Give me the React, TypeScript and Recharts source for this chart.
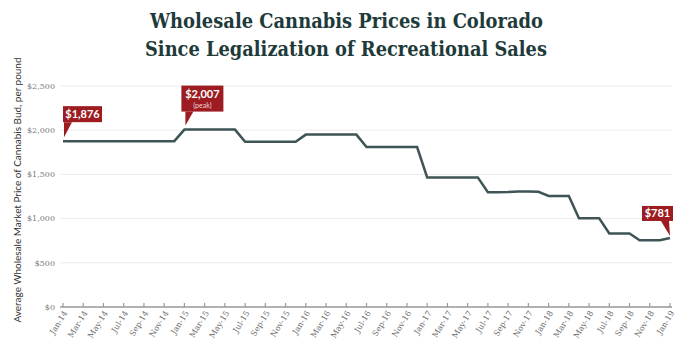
import React from 'react';
import { LineChart, Line, XAxis, YAxis, CartesianGrid, ReferenceDot } from 'recharts';

const months: string[] = [
  'Jan-14', 'Feb-14', 'Mar-14', 'Apr-14', 'May-14', 'Jun-14', 'Jul-14', 'Aug-14', 'Sep-14', 'Oct-14', 'Nov-14', 'Dec-14',
  'Jan-15', 'Feb-15', 'Mar-15', 'Apr-15', 'May-15', 'Jun-15', 'Jul-15', 'Aug-15', 'Sep-15', 'Oct-15', 'Nov-15', 'Dec-15',
  'Jan-16', 'Feb-16', 'Mar-16', 'Apr-16', 'May-16', 'Jun-16', 'Jul-16', 'Aug-16', 'Sep-16', 'Oct-16', 'Nov-16', 'Dec-16',
  'Jan-17', 'Feb-17', 'Mar-17', 'Apr-17', 'May-17', 'Jun-17', 'Jul-17', 'Aug-17', 'Sep-17', 'Oct-17', 'Nov-17', 'Dec-17',
  'Jan-18', 'Feb-18', 'Mar-18', 'Apr-18', 'May-18', 'Jun-18', 'Jul-18', 'Aug-18', 'Sep-18', 'Oct-18', 'Nov-18', 'Dec-18',
  'Jan-19',
];

const prices: number[] = [
  1876, 1876, 1876, 1876, 1876, 1876, 1876, 1876, 1876, 1876, 1876, 1876,
  2007, 2007, 2007, 2007, 2007, 2007, 1868, 1868, 1868, 1868, 1868, 1868,
  1950, 1950, 1950, 1950, 1950, 1950, 1810, 1810, 1810, 1810, 1810, 1810,
  1466, 1466, 1466, 1466, 1466, 1466, 1298, 1298, 1300, 1306, 1306, 1304,
  1257, 1257, 1257, 1003, 1003, 1003, 831, 831, 831, 755, 755, 755,
  781,
];

const yTicks: number[] = [0, 500, 1000, 1500, 2000, 2500];

const titleLines: string[] = [
  'Wholesale Cannabis Prices in Colorado',
  'Since Legalization of Recreational Sales',
];
const yAxisTitle = 'Average Wholesale Market Price of Cannabis Bud, per pound';

type Callout = { month: string; value: number; label: string; sub?: string; side: 'left' | 'peak' | 'right' };
const callouts: Callout[] = [
  { month: 'Jan-14', value: 1876, label: '$1,876', side: 'left' },
  { month: 'Jan-15', value: 2007, label: '$2,007', sub: '(peak)', side: 'peak' },
  { month: 'Jan-19', value: 781, label: '$781', side: 'right' },
];

const data = months.map((m, i) => ({ month: m, price: prices[i] }));

const RED = '#9c1c21';
const LINE = '#3f5456';

const fmt = (v: number) => '$' + v.toLocaleString('en-US');

const XTick = (props: any) => {
  const { x, y, payload } = props;
  const ax = x;
  const ay = y + 3;
  return (
    <g>
      <line x1={x} x2={x} y1={y - 4} y2={y} stroke="#9a9a9a" strokeWidth={1.2} />
      <text
        x={ax}
        y={ay}
        transform={`rotate(-58, ${ax}, ${ay})`}
        textAnchor="end"
        dominantBaseline="hanging"
        fontSize={8}
        fill="#6e6e6e"
        fontFamily="DejaVu Serif"
      >
        {payload.value}
      </text>
    </g>
  );
};

const makeCallout = (c: Callout) => (props: any) => {
  const { cx, cy } = props;
  if (cx == null || cy == null) return <g />;
  let bx: number, by: number, bw: number, bh: number, tail: string;
  if (c.side === 'left') {
    bw = 39; bh = 16; bx = cx; by = cy - 19 - bh;
    tail = `M${bx + 1},${by + bh} L${bx + 9},${by + bh} L${cx + 1},${cy - 4} Z`;
  } else if (c.side === 'peak') {
    bw = 42; bh = 26; bx = cx - 3; by = cy - 18 - bh;
    tail = `M${bx + 4},${by + bh} L${bx + 12},${by + bh} L${cx + 1},${cy - 4} Z`;
  } else {
    bw = 31; bh = 15; bx = cx + 3 - bw; by = cy - 17 - bh;
    tail = `M${bx + bw - 12},${by + bh} L${bx + bw - 4},${by + bh} L${cx},${cy - 2} Z`;
  }
  return (
    <g>
      <path d={tail} fill={RED} />
      <rect x={bx} y={by} width={bw} height={bh} fill={RED} />
      {c.sub ? (
        <>
          <text x={bx + bw / 2} y={by + 12} textAnchor="middle" fontSize={11} fontWeight={700} fill="#fff" fontFamily="Lato">{c.label}</text>
          <text x={bx + bw / 2} y={by + 22} textAnchor="middle" fontSize={7} fill="#f2d6d6" fontFamily="Lato">{c.sub}</text>
        </>
      ) : (
        <text x={bx + bw / 2} y={by + bh / 2 + 4} textAnchor="middle" fontSize={11} fontWeight={700} fill="#fff" fontFamily="Lato">{c.label}</text>
      )}
    </g>
  );
};

export default function App() {
  return (
    <div style={{ position: 'absolute', left: 0, top: 0, width: 675, height: 342, background: '#fff', overflow: 'hidden' }}>
      <LineChart
        width={675}
        height={342}
        data={data}
        margin={{ top: 86, right: 3, bottom: 0, left: 0 }}
      >
        <CartesianGrid vertical={false} stroke="#ececec" strokeWidth={1} />
        <XAxis
          dataKey="month"
          interval={1}
          padding={{ left: 3, right: 2 }}
          height={35}
          tickSize={0}
          tickMargin={0}
          tickLine={false}
          axisLine={{ stroke: '#9a9a9a', strokeWidth: 1.5 }}
          tick={<XTick />}
        />
        <YAxis
          domain={[0, 2500]}
          ticks={yTicks}
          width={60}
          axisLine={false}
          tickLine={false}
          tickSize={0}
          tickMargin={5}
          tickFormatter={fmt}
          tick={{ fontSize: 8, fill: '#7a7a7a', fontFamily: 'DejaVu Serif' }}
        />
        <Line
          type="linear"
          dataKey="price"
          stroke={LINE}
          strokeWidth={2.5}
          dot={false}
          activeDot={false}
          isAnimationActive={false}
        />
        {callouts.map((c) => (
          <ReferenceDot
            key={c.month}
            x={c.month}
            y={c.value}
            ifOverflow="visible"
            shape={makeCallout(c)}
          />
        ))}
      </LineChart>
      <svg width={675} height={342} style={{ position: 'absolute', left: 0, top: 0, pointerEvents: 'none' }}>
        <text x={346.5} y={28} textAnchor="middle" fontSize={20} fontWeight={700} fill="#1e3b3a" fontFamily="DejaVu Serif" textLength={393} lengthAdjust="spacingAndGlyphs">
          {titleLines[0]}
        </text>
        <text x={346} y={56} textAnchor="middle" fontSize={20} fontWeight={700} fill="#1e3b3a" fontFamily="DejaVu Serif" textLength={402} lengthAdjust="spacingAndGlyphs">
          {titleLines[1]}
        </text>
        <text
          x={21}
          y={190}
          transform="rotate(-90, 21, 190)"
          textAnchor="middle"
          fontSize={9}
          fill="#333"
          fontFamily="Lato"
          textLength={265}
          lengthAdjust="spacingAndGlyphs"
        >
          {yAxisTitle}
        </text>
      </svg>
    </div>
  );
}
